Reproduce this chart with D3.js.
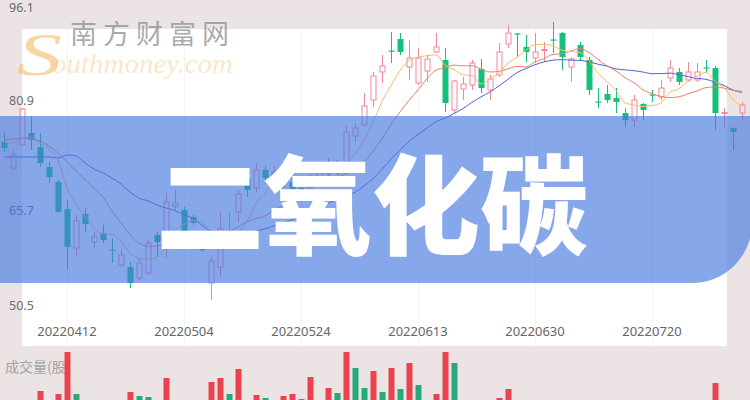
<!DOCTYPE html>
<html><head><meta charset="utf-8">
<script src="https://cdn.jsdelivr.net/npm/d3@7/dist/d3.min.js"></script>
<style>html,body{margin:0;padding:0;background:#ece4e4;overflow:hidden}</style>
</head><body>
<svg id="c" width="750" height="400"></svg>
<script>
const dates = ["20220330","20220331","20220401","20220406","20220407","20220408","20220411","20220412","20220413","20220414",
"20220415","20220418","20220419","20220420","20220421","20220422","20220425","20220426","20220427","20220428",
"20220504","20220505","20220506","20220509","20220510","20220511","20220512","20220513","20220516","20220517",
"20220518","20220519","20220520","20220524","20220525","20220526","20220527","20220530","20220531","20220601",
"20220602","20220606","20220607","20220608","20220609","20220610","20220613","20220614","20220615","20220616",
"20220617","20220620","20220621","20220622","20220623","20220624","20220627","20220628","20220629","20220630",
"20220701","20220704","20220705","20220706","20220707","20220708","20220711","20220712","20220713","20220714",
"20220715","20220718","20220720","20220721","20220722","20220725","20220726","20220727","20220728","20220729",
"20220801","20220802","20220803"];
const open = [75.28,71.32,74.82,76.64,74.52,71.48,69.20,65.09,59.16,64.33,60.08,61.44,58.94,56.58,56.28,54.60,55.36,61.14,59.32,65.55,
64.94,63.88,59.92,53.84,56.28,59.92,64.64,69.80,68.28,71.02,69.50,70.72,69.20,68.28,66.76,69.50,70.41,72.08,71.02,76.19,
77.86,81.66,85.92,89.18,90.93,86.68,84.24,86.07,88.96,87.74,80.14,83.33,83.94,86.37,83.18,85.46,90.17,91.77,89.72,88.04,
89.18,90.86,91.84,86.68,90.02,87.74,81.43,82.57,81.96,79.68,78.62,81.05,82.50,82.12,85.00,85.92,84.70,84.70,86.60,86.52,
79.61,77.40,79.68];
const high = [76.64,74.06,80.44,79.08,76.64,72.24,69.50,66.46,64.18,65.24,61.60,62.66,60.68,58.86,57.04,57.64,60.38,61.60,67.52,67.98,
65.40,64.18,60.08,57.80,64.64,64.48,67.98,70.72,72.08,71.63,71.78,71.32,69.80,68.89,70.41,71.63,72.84,72.54,77.71,78.16,
82.72,85.92,88.50,92.00,91.84,90.78,89.56,88.50,91.84,89.56,84.70,85.16,87.74,87.89,85.46,90.32,93.06,91.84,91.54,91.84,
90.48,93.52,92.00,88.20,90.48,88.20,83.48,83.94,83.48,80.44,82.42,81.20,83.18,84.70,87.74,86.52,87.44,87.28,87.74,86.83,
80.44,77.56,81.36];
const low = [73.76,71.02,74.67,74.06,71.48,69.04,64.48,55.82,58.10,61.60,59.16,59.92,56.88,56.28,53.08,54.30,55.06,57.80,57.64,64.94,
61.29,62.66,58.56,51.26,54.76,59.62,63.12,66.92,67.68,68.89,68.74,68.28,67.07,66.16,66.16,68.89,69.80,70.26,70.41,75.28,
77.56,80.60,84.24,87.28,88.50,84.70,83.94,84.40,88.80,79.84,79.68,81.66,83.18,82.72,81.66,85.16,89.56,88.20,87.44,87.28,
87.44,88.80,86.22,84.40,87.74,82.42,80.44,81.20,79.68,77.56,77.56,78.62,81.36,81.66,84.40,83.94,84.40,84.40,85.92,77.10,
77.40,74.06,78.62];
const close = [74.36,73.30,80.29,75.58,72.08,69.96,64.64,59.32,63.27,62.81,60.84,60.38,58.78,58.10,53.84,56.88,59.92,60.08,66.16,66.00,
61.60,62.96,58.86,57.19,62.05,61.44,67.37,67.98,71.02,69.80,70.72,69.20,67.98,67.07,69.80,70.72,71.78,71.02,76.80,77.40,
80.75,85.31,86.83,89.03,88.96,88.04,88.04,87.89,89.72,81.20,84.55,84.09,87.28,83.48,84.85,88.96,91.84,91.62,88.96,88.96,
89.34,90.70,88.20,87.89,88.20,83.18,81.28,81.66,81.36,78.62,81.66,80.14,82.34,83.48,86.52,84.40,85.92,85.92,86.45,79.68,
79.76,76.80,80.90];
const ma5 = [75.28,75.12,75.88,76.04,75.12,74.24,72.51,68.31,65.85,64.00,62.17,61.32,61.22,60.18,58.39,57.60,57.51,57.77,59.38,61.81,
62.75,63.36,63.12,61.32,60.53,60.50,61.38,63.21,65.97,67.52,69.38,69.74,69.74,68.95,68.95,68.95,69.47,70.08,72.02,73.54,
75.55,78.26,81.42,83.86,86.17,87.63,88.18,88.39,88.53,86.98,86.28,85.49,85.37,84.12,84.85,85.73,87.28,88.15,89.25,90.07,
90.14,89.91,89.23,89.02,88.87,87.63,85.75,84.44,83.13,81.22,80.92,80.69,80.82,81.25,82.83,83.38,84.53,85.25,85.84,84.47,
83.54,81.72,80.72];
const ma10 = [75.58,75.73,75.88,75.73,75.43,74.67,73.60,72.24,70.87,69.56,68.21,66.92,64.77,63.02,61.19,59.89,59.42,59.49,59.78,60.10,
60.18,60.43,60.44,60.35,61.17,61.63,62.37,63.16,63.65,64.03,64.94,65.56,66.48,67.46,68.24,69.17,69.61,69.91,70.49,71.25,
72.25,73.86,75.75,77.94,79.86,81.59,83.22,84.91,86.20,86.58,86.96,86.84,86.88,86.33,85.92,86.01,86.39,86.76,86.68,87.46,
87.94,88.60,88.69,89.13,89.47,88.89,87.83,86.84,86.08,85.04,84.27,83.22,82.63,82.19,82.02,82.15,82.61,83.04,83.54,83.65,
83.46,83.13,82.98];
const ma20 = [73.00,73.00,73.00,73.00,73.00,73.00,72.84,73.30,73.15,72.08,71.17,70.56,69.80,68.89,67.68,66.76,66.31,65.70,65.24,64.83,
64.20,63.68,62.60,61.69,61.19,60.76,60.90,61.32,61.72,62.07,62.55,62.99,63.46,63.91,64.70,65.40,65.99,66.54,67.07,67.64,
68.60,69.71,71.11,72.71,74.05,75.38,76.42,77.40,78.35,78.91,79.61,80.35,81.31,82.13,82.89,83.80,84.81,85.83,86.44,87.02,
87.45,87.72,87.79,87.72,87.69,87.45,87.11,86.80,86.38,86.25,86.11,85.91,85.66,85.66,85.75,85.52,85.22,84.94,84.81,84.35,
83.86,83.17,82.81];
const volume = [7,6,9,5,19,8,16,58,16,7,5,6,4,5,18,14,13,6,32,8,
7,5,6,28,32,16,41,9,15,12,8,14,16,11,33,9,22,17,58,42,
22,39,18,42,21,47,25,9,16,58,47,9,8,7,8,12,21,6,5,7,
4,8,6,5,7,9,6,5,4,8,7,5,6,4,7,6,5,8,6,27,
8,6,5];
const volumeUp = [0,1,1,0,1,0,1,1,0,0,1,0,0,1,1,0,0,0,1,1,
0,0,0,1,1,0,1,0,1,0,1,1,1,0,1,1,1,0,1,0,
0,1,0,1,0,1,0,1,1,1,0,1,1,0,1,1,1,0,0,1,
1,0,0,1,0,0,0,0,0,0,1,0,0,1,1,0,1,1,0,1,
1,0,1];
const yTickValues = [96.1, 80.9, 65.7, 50.5];
const xTickLabels = ["20220412","20220504","20220524","20220613","20220630","20220720"];
const titleText = "二氧化碳";
const volumeLabel = "成交量(股)";
const brandCn = "南方财富网";
const brandEn = ["S", "outhmoney.com"];

const W = 750, H = 400;
const UP = "#f2879a", DOWN = "#17bf7d";
const svg = d3.select("#c");
const x = d3.scalePoint().domain(dates).range([4, 742]);
const y = d3.scaleLinear().domain([50.5, 96.1]).range([305, 5]);
const yv = d3.scaleLinear().domain([0, 60]).range([410, 350]);

svg.append("rect").attr("width", W).attr("height", H).attr("fill", "#ece4e4");
svg.append("rect").attr("x", 22).attr("y", 29).attr("width", 705).attr("height", 317).attr("fill", "#ffffff");

svg.append("g").selectAll("line").data(xTickLabels).join("line")
  .attr("x1", d => Math.round(x(d)) + 0.5).attr("x2", d => Math.round(x(d)) + 0.5)
  .attr("y1", 29).attr("y2", 346).attr("stroke", "#f4f4f7");

const rows = dates.map((d, i) => ({d, o: open[i], h: high[i], l: low[i], c: close[i]}));
const cx = d => Math.round(x(d.d)) + 0.5;

const cg = svg.append("g");
const g = cg.selectAll("g").data(rows).join("g");
g.each(function(r) {
  const el = d3.select(this);
  const up = r.c >= r.o;
  const col = up ? UP : DOWN;
  const top = y(Math.max(r.o, r.c)), bot = y(Math.min(r.o, r.c));
  const xx = cx(r);
  if (up) {
    el.append("line").attr("x1", xx).attr("x2", xx).attr("y1", y(r.h)).attr("y2", top).attr("stroke", col);
    el.append("line").attr("x1", xx).attr("x2", xx).attr("y1", bot).attr("y2", y(r.l)).attr("stroke", col);
    el.append("rect").attr("x", xx - 2.5).attr("y", top).attr("width", 5).attr("height", Math.max(1, bot - top))
      .attr("fill", "none").attr("stroke", col);
  } else {
    el.append("line").attr("x1", xx).attr("x2", xx).attr("y1", y(r.h)).attr("y2", y(r.l)).attr("stroke", col);
    el.append("rect").attr("x", xx - 3).attr("y", top).attr("width", 6).attr("height", Math.max(1.2, bot - top))
      .attr("fill", col);
  }
});

const lineGen = arr => d3.line().x((v, i) => x(dates[i])).y(v => y(v)).curve(d3.curveMonotoneX)(arr);
[[ma20, "#4f63d2"], [ma10, "#ef7d66"], [ma5, "#f6bb66"]].forEach(([arr, col]) => {
  svg.append("path").attr("d", lineGen(arr)).attr("fill", "none").attr("stroke", col).attr("stroke-width", 1);
});

const mid = (yTickValues[0] + yTickValues[yTickValues.length - 1]) / 2;
svg.append("g").selectAll("text").data(yTickValues).join("text")
  .attr("x", 9)
  .attr("y", (v, i) => y(v) + (i === 0 ? 2 : i === yTickValues.length - 1 ? 0 : (v > mid ? -5 : 5)))
  .attr("dominant-baseline", "central")
  .attr("font-family", "'Noto Sans', 'Open Sans', sans-serif").attr("font-size", 12.5)
  .attr("fill", "#6b6b78").text(v => v.toFixed(1));

svg.append("g").selectAll("text").data(xTickLabels).join("text")
  .attr("x", d => x(d)).attr("y", 331).attr("text-anchor", "middle").attr("dominant-baseline", "central")
  .attr("font-family", "'Noto Sans', 'Open Sans', sans-serif").attr("font-size", 13)
  .attr("fill", "#666").text(d => d);

svg.append("text").attr("x", 5).attr("y", 366).attr("dominant-baseline", "central")
  .attr("font-family", "'Noto Sans CJK SC', sans-serif").attr("font-size", 14)
  .attr("fill", "#a3a3a3").text(volumeLabel);

svg.append("g").selectAll("rect").data(volume).join("rect")
  .attr("x", (v, i) => Math.round(x(dates[i])) - 2.5).attr("width", 6)
  .attr("y", v => yv(v)).attr("height", v => yv(0) - yv(v))
  .attr("fill", (v, i) => volumeUp[i] ? "#e8434f" : "#27a979");

svg.append("path").attr("d", "M-10,116H752V223A60,60 0 0 1 692,283H-10Z")
  .attr("fill", "rgb(70,120,225)").attr("fill-opacity", 0.65);

svg.append("text").attr("x", 372).attr("y", 199).attr("text-anchor", "middle").attr("dominant-baseline", "central")
  .attr("font-family", "'Noto Sans CJK SC', sans-serif").attr("font-weight", 900).attr("font-size", 108)
  .attr("fill", "#ffffff").text(titleText);

svg.append("text").attr("x", 70).attr("y", 32).attr("dominant-baseline", "central")
  .attr("font-family", "'Noto Sans CJK SC', sans-serif").attr("font-size", 27).attr("letter-spacing", 6)
  .attr("fill", "#8a8a8a").attr("fill-opacity", 0.72).text(brandCn);
svg.append("text").attr("transform", "translate(17,75) scale(1.45,1)")
  .attr("font-family", "'Liberation Serif', serif").attr("font-style", "italic").attr("font-size", 62)
  .attr("fill", "#f0b45a").attr("fill-opacity", 0.55).text(brandEn[0]);
svg.append("text").attr("x", 52).attr("y", 73)
  .attr("font-family", "'Liberation Serif', serif").attr("font-style", "italic").attr("font-size", 27)
  .attr("textLength", 181).attr("lengthAdjust", "spacingAndGlyphs")
  .attr("fill", "#f3cf95").attr("fill-opacity", 0.5).text(brandEn[1]);
</script>
</body></html>
